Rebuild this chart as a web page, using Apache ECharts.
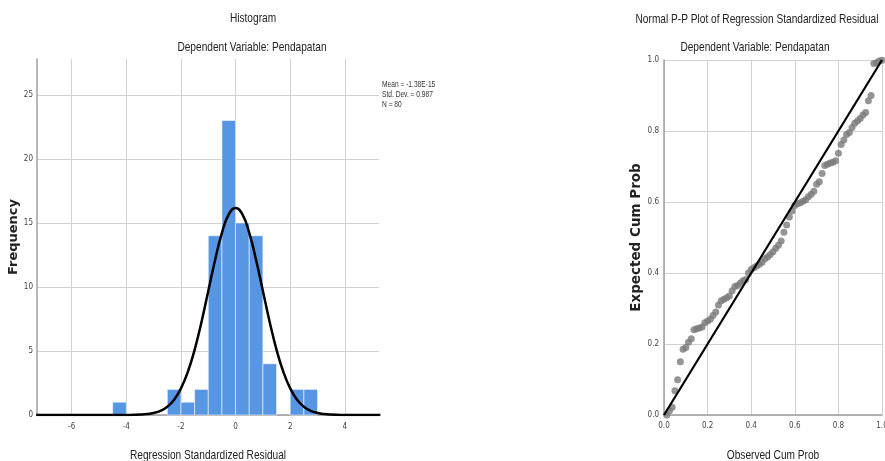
<!DOCTYPE html>
<html>
<head>
<meta charset="utf-8">
<script src="https://cdn.jsdelivr.net/npm/echarts@6/dist/echarts.min.js"></script>
<style>
  html, body { margin: 0; padding: 0; background: #fff; }
  #main { width: 885px; height: 461px; }
</style>
</head>
<body>
<div id="main"></div>
<script>
// histogram bins (width 0.5) and counts
const binStart = [-4.5, -2.5, -2, -1.5, -1, -0.5, 0, 0.5, 1, 2, 2.5]
const binEnd = [-4, -2, -1.5, -1, -0.5, 0, 0.5, 1, 1.5, 2.5, 3]
const binCount = [1, 2, 1, 2, 14, 23, 15, 14, 4, 2, 2]

// normal curve
const curveX = [-7.3, -5, -4.5, -4, -3.75, -3.5, -3.25, -3, -2.75, -2.5, -2.25, -2, -1.75, -1.5, -1.25, -1, -0.75, -0.5, -0.25,
    0, 0.25, 0.5, 0.75, 1, 1.25, 1.5, 1.75, 2, 2.25, 2.5, 2.75, 3, 3.25, 3.5, 3.75, 4, 4.5, 5.3]
const curveY = [0, 0, 0, 0, 0.01, 0.03, 0.07, 0.16, 0.33, 0.65, 1.2, 2.08, 3.36, 5.09, 7.25, 9.68, 12.11, 14.22, 15.66,
    16.17, 15.66, 14.22, 12.11, 9.68, 7.25, 5.09, 3.36, 2.08, 1.2, 0.65, 0.33, 0.16, 0.07, 0.03, 0.01, 0, 0, 0]

const statLines = ['Mean = -1.38E-15', 'Std. Dev. = 0.987', 'N = 80']

// P-P plot
const observed = [0.0125, 0.025, 0.0375, 0.05, 0.0625, 0.075, 0.0875, 0.1, 0.1125, 0.125,
    0.1375, 0.15, 0.1625, 0.175, 0.1875, 0.2, 0.2125, 0.225, 0.2375, 0.25,
    0.2625, 0.275, 0.2875, 0.3, 0.3125, 0.325, 0.3375, 0.35, 0.3625, 0.375,
    0.3875, 0.4, 0.4125, 0.425, 0.4375, 0.45, 0.4625, 0.475, 0.4875, 0.5,
    0.5125, 0.525, 0.5375, 0.55, 0.5625, 0.575, 0.5875, 0.6, 0.6125, 0.625,
    0.6375, 0.65, 0.6625, 0.675, 0.6875, 0.7, 0.7125, 0.725, 0.7375, 0.75,
    0.7625, 0.775, 0.7875, 0.8, 0.8125, 0.825, 0.8375, 0.85, 0.8625, 0.875,
    0.8875, 0.9, 0.9125, 0.925, 0.9375, 0.95, 0.9625, 0.975, 0.9875, 1.0]
const expected = [0.0, 0.012, 0.022, 0.068, 0.099, 0.15, 0.185, 0.19, 0.205, 0.215,
    0.24, 0.243, 0.245, 0.248, 0.26, 0.265, 0.27, 0.28, 0.29, 0.31,
    0.322, 0.326, 0.33, 0.335, 0.35, 0.362, 0.365, 0.372, 0.378, 0.382,
    0.4, 0.41, 0.415, 0.42, 0.425, 0.43, 0.44, 0.445, 0.452, 0.46,
    0.47, 0.478, 0.49, 0.515, 0.535, 0.558, 0.575, 0.59, 0.595, 0.598,
    0.602, 0.606, 0.615, 0.622, 0.63, 0.65, 0.657, 0.68, 0.703, 0.706,
    0.71, 0.712, 0.716, 0.737, 0.762, 0.775, 0.79, 0.796, 0.81, 0.822,
    0.828, 0.835, 0.845, 0.852, 0.885, 0.9, 0.99, 0.992, 0.997, 0.999]
const refLine = [0, 1]

const narrow = "'Liberation Sans Narrow', 'Arial Narrow', 'DejaVu Sans Condensed', sans-serif"
const sans = "'Liberation Sans', Arial, sans-serif"
const gridColor = '#d2d2d2'
const axisColor = '#a0a0a0'

const chart = echarts.init(document.getElementById('main'))

const histData = binCount.map((c, i) => [binStart[i], binEnd[i], c])
const curveData = curveX.map((x, i) => [x, curveY[i]])
const ppData = observed.map((x, i) => [x, expected[i]])

//压窄的标题文字
function label(text, x, y, size) {
    return {
        type: 'text',
        x: x,
        y: y,
        scaleX: 0.78,
        style: {
            text: text,
            fill: '#222',
            font: size + 'px ' + sans,
            align: 'center',
            verticalAlign: 'middle'
        }
    }
}

const option = {
    animation: false,
    grid: [
        { left: 37, top: 59, width: 342, height: 356, outerBoundsMode: 'none', containLabel: false },
        { left: 664, top: 60, width: 218, height: 355, outerBoundsMode: 'none', containLabel: false }
    ],
    xAxis: [{
        gridIndex: 0,
        type: 'value',
        min: -7.27,
        max: 5.25,
        splitNumber: 6,
        minInterval: 2,
        maxInterval: 2,
        axisLine: { show: true, onZero: false, lineStyle: { color: axisColor, width: 1.5 } },
        axisTick: { show: false },
        axisLabel: { showMinLabel: false, showMaxLabel: false, fontFamily: narrow, fontSize: 8, color: '#444', margin: 8 },
        splitLine: { show: true, showMinLine: false, showMaxLine: false, lineStyle: { color: gridColor, width: 1 } }
    }, {
        gridIndex: 1,
        type: 'value',
        min: 0,
        max: 1,
        interval: 0.2,
        axisLine: { show: true, onZero: false, lineStyle: { color: axisColor, width: 1.5 } },
        axisTick: { show: false },
        axisLabel: { fontFamily: narrow, fontSize: 8, color: '#444', margin: 7, formatter: v => v.toFixed(1) },
        splitLine: { show: true, lineStyle: { color: gridColor, width: 1 } }
    }],
    yAxis: [{
        gridIndex: 0,
        type: 'value',
        min: 0,
        max: 27.8,
        interval: 5,
        name: 'Frequency',
        nameLocation: 'middle',
        nameGap: 17,
        nameTextStyle: { fontFamily: 'DejaVu Sans', fontWeight: 'bold', fontSize: 13, color: '#222' },
        axisLine: { show: true, onZero: false, lineStyle: { color: axisColor, width: 1.5 } },
        axisTick: { show: false },
        axisLabel: { showMaxLabel: false, fontFamily: narrow, fontSize: 8, color: '#444', margin: 4 },
        splitLine: { show: true, showMaxLine: false, lineStyle: { color: gridColor, width: 1 } }
    }, {
        gridIndex: 1,
        type: 'value',
        min: 0,
        max: 1,
        interval: 0.2,
        name: 'Expected Cum Prob',
        nameLocation: 'middle',
        nameGap: 16,
        nameTextStyle: { fontFamily: 'DejaVu Sans', fontWeight: 'bold', fontSize: 13.5, color: '#222' },
        axisLine: { show: true, onZero: false, lineStyle: { color: axisColor, width: 1.5 } },
        axisTick: { show: false },
        axisLabel: { fontFamily: narrow, fontSize: 8, color: '#444', margin: 5, formatter: v => v.toFixed(1) },
        splitLine: { show: true, lineStyle: { color: gridColor, width: 1 } }
    }],
    graphic: [
        label('Histogram', 253, 18, 13),
        label('Dependent Variable: Pendapatan', 252, 47, 13),
        label('Regression Standardized Residual', 208, 455, 13),
        label('Normal P-P Plot of Regression Standardized Residual', 757, 19, 13),
        label('Dependent Variable: Pendapatan', 755, 47, 13),
        label('Observed Cum Prob', 773, 455, 13),
        {
            type: 'text',
            x: 382,
            y: 80,
            scaleX: 0.78,
            style: {
                text: statLines.join('\n'),
                fill: '#333',
                font: '8.5px ' + sans,
                lineHeight: 10,
                align: 'left',
                verticalAlign: 'top'
            }
        }
    ],
    series: [{
        type: 'custom',
        xAxisIndex: 0,
        yAxisIndex: 0,
        data: histData,
        encode: { x: [0, 1], y: 2 },
        renderItem: function (params, api) {
            const p0 = api.coord([api.value(0), api.value(2)])
            const p1 = api.coord([api.value(1), 0])
            return {
                type: 'rect',
                shape: { x: p0[0], y: p0[1], width: p1[0] - p0[0], height: p1[1] - p0[1] },
                style: { fill: '#5796e3', stroke: 'rgba(255,255,255,0.55)', lineWidth: 1 }
            }
        },
        z: 2
    }, {
        type: 'line',
        xAxisIndex: 0,
        yAxisIndex: 0,
        data: curveData,
        smooth: true,
        showSymbol: false,
        clip: true,
        lineStyle: { color: '#000', width: 2.5 },
        z: 3
    }, {
        type: 'scatter',
        xAxisIndex: 1,
        yAxisIndex: 1,
        data: ppData,
        symbolSize: 7,
        itemStyle: { color: '#7a7a7a' },
        z: 2
    }, {
        type: 'line',
        xAxisIndex: 1,
        yAxisIndex: 1,
        data: refLine.map(v => [v, v]),
        showSymbol: false,
        lineStyle: { color: '#000', width: 2.2 },
        z: 3
    }]
}

chart.setOption(option)
</script>
</body>
</html>
